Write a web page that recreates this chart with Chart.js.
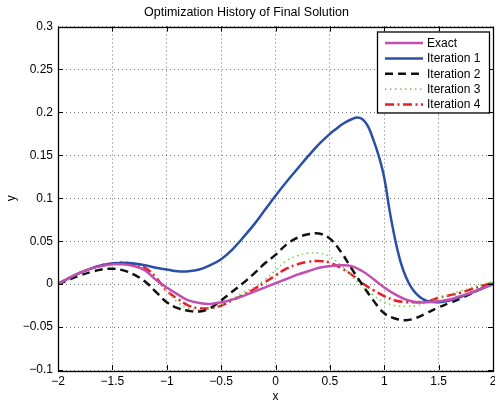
<!DOCTYPE html>
<html lang="en">
<head>
  <meta charset="UTF-8">
  <title>Optimization History of Final Solution</title>
  <script src="https://cdn.jsdelivr.net/npm/chart.js"></script>
  <style>
    body { margin: 0; background: #fff; }
    #wrap { width: 495px; height: 405px; }
  </style>
</head>
<body>
<div id="wrap"><canvas id="historyChart" width="495" height="405"></canvas></div>
<script>
  // sample points shared by most curves
  const xGrid = [-2, -1.9, -1.8, -1.7, -1.6, -1.5, -1.4, -1.3, -1.2, -1.1, -1, -0.9, -0.8, -0.7, -0.6, -0.5, -0.4, -0.3, -0.2, -0.1,
    0, 0.1, 0.2, 0.3, 0.4, 0.5, 0.6, 0.7, 0.8, 0.9, 1, 1.1, 1.2, 1.3, 1.4, 1.5, 1.6, 1.7, 1.8, 1.9, 2];

  const yExact = [0, 0.007, 0.013, 0.018, 0.021, 0.023, 0.023, 0.021, 0.016, 0.005, -0.004, -0.012, -0.019, -0.022, -0.023, -0.021, -0.018, -0.014, -0.009, -0.004,
    0.001, 0.006, 0.011, 0.015, 0.019, 0.021, 0.022, 0.021, 0.015, 0.006, -0.004, -0.012, -0.018, -0.021, -0.021, -0.020, -0.018, -0.014, -0.010, -0.005, 0];

  const yIter2 = [0, 0.005, 0.010, 0.014, 0.017, 0.018, 0.016, 0.011, 0.003, -0.009, -0.021, -0.028, -0.031, -0.032, -0.028, -0.019, -0.009, 0.001, 0.012, 0.024,
    0.034, 0.046, 0.054, 0.058, 0.059, 0.053, 0.038, 0.018, -0.001, -0.019, -0.034, -0.040, -0.042, -0.039, -0.033, -0.027, -0.022, -0.017, -0.011, -0.005, 0.001];

  const yIter3 = [0, 0.007, 0.013, 0.018, 0.021, 0.023, 0.024, 0.022, 0.016, 0.005, -0.008, -0.021, -0.028, -0.030, -0.028, -0.024, -0.017, -0.010, -0.004, 0.005,
    0.016, 0.027, 0.033, 0.036, 0.036, 0.032, 0.022, 0.010, -0.003, -0.013, -0.021, -0.025, -0.026, -0.025, -0.021, -0.017, -0.012, -0.008, -0.004, 0, 0.003];

  const yIter4 = [0, 0.007, 0.013, 0.018, 0.022, 0.024, 0.025, 0.023, 0.019, 0.008, -0.008, -0.017, -0.025, -0.028, -0.028, -0.025, -0.019, -0.013, -0.006, 0.002,
    0.010, 0.018, 0.023, 0.026, 0.027, 0.025, 0.019, 0.011, 0.001, -0.007, -0.014, -0.019, -0.021, -0.021, -0.020, -0.016, -0.013, -0.010, -0.006, -0.002, 0.002];

  // iteration 1 has a sharp peak, so it gets a denser x set
  const xIter1 = [-2, -1.9, -1.8, -1.7, -1.6, -1.5, -1.4, -1.3, -1.2, -1.1, -1, -0.9, -0.8, -0.7, -0.6, -0.5, -0.4, -0.3, -0.2, -0.1,
    0, 0.1, 0.2, 0.3, 0.4, 0.5, 0.55, 0.6, 0.65, 0.7, 0.75, 0.8, 0.85, 0.9, 0.95, 1, 1.05, 1.1, 1.15, 1.2, 1.25, 1.3, 1.35, 1.4,
    1.5, 1.6, 1.7, 1.8, 1.9, 2];
  const yIter1 = [0, 0.007, 0.013, 0.018, 0.022, 0.024, 0.025, 0.024, 0.022, 0.019, 0.017, 0.015, 0.015, 0.017, 0.022, 0.029, 0.040, 0.054, 0.069, 0.086,
    0.103, 0.119, 0.134, 0.149, 0.163, 0.175, 0.180, 0.185, 0.189, 0.192, 0.194, 0.192, 0.184, 0.168, 0.149, 0.124, 0.085, 0.052, 0.026, 0.008, -0.004, -0.012, -0.017, -0.020,
    -0.021, -0.019, -0.015, -0.010, -0.005, 0];

  const seriesNames = ['Exact', 'Iteration 1', 'Iteration 2', 'Iteration 3', 'Iteration 4'];
  const xTicks = [-2, -1.5, -1, -0.5, 0, 0.5, 1, 1.5, 2];
  const yTicks = [-0.1, -0.05, 0, 0.05, 0.1, 0.15, 0.2, 0.25, 0.3];

  const FONT = 'Liberation Sans, Arial, Helvetica, sans-serif';

  function pts(xs, ys) {
    return xs.map((x, i) => ({ x: x, y: ys[i] }));
  }

  function fmt(v) {
    const s = String(Math.round(v * 100) / 100);
    return s.replace('-', '\u2212');
  }

  // axes box with inward tick marks on all four sides
  const boxTicks = {
    id: 'boxTicks',
    afterDatasetsDraw(chart) {
      const { ctx, chartArea: a, scales } = chart;
      ctx.save();
      ctx.strokeStyle = '#000';
      ctx.lineWidth = 1;
      ctx.beginPath();
      xTicks.forEach(v => {
        const px = Math.round(scales.x.getPixelForValue(v)) + 0.5;
        ctx.moveTo(px, a.bottom); ctx.lineTo(px, a.bottom - 5);
        ctx.moveTo(px, a.top); ctx.lineTo(px, a.top + 5);
      });
      yTicks.forEach(v => {
        const py = Math.round(scales.y.getPixelForValue(v)) + 0.5;
        ctx.moveTo(a.left, py); ctx.lineTo(a.left + 5, py);
        ctx.moveTo(a.right, py); ctx.lineTo(a.right - 5, py);
      });
      ctx.stroke();
      ctx.lineWidth = 1.3;
      ctx.strokeRect(Math.round(a.left) + 0.5, Math.round(a.top) + 0.5,
        Math.round(a.right - a.left), Math.round(a.bottom - a.top));
      ctx.restore();
    }
  };

  // boxed legend in the upper right corner
  const boxLegend = {
    id: 'boxLegend',
    afterDraw(chart) {
      const { ctx, chartArea: a } = chart;
      const w = 112, h = 81;
      const left = a.right - 4 - w, top = a.top + 5;
      ctx.save();
      ctx.fillStyle = '#fff';
      ctx.fillRect(left, top, w, h);
      ctx.strokeStyle = '#000';
      ctx.lineWidth = 1.3;
      ctx.strokeRect(left + 0.5, top + 0.5, w, h);
      ctx.font = '12px ' + FONT;
      ctx.textBaseline = 'middle';
      chart.data.datasets.forEach((ds, i) => {
        const y = top + 11.5 + i * 15.4;
        ctx.strokeStyle = ds.borderColor;
        ctx.lineWidth = ds.borderWidth;
        ctx.setLineDash(ds.borderDash || []);
        ctx.beginPath();
        ctx.moveTo(left + 8, y);
        ctx.lineTo(left + 46, y);
        ctx.stroke();
        ctx.setLineDash([]);
        ctx.fillStyle = '#000';
        ctx.fillText(ds.label, left + 50, y + 0.5);
      });
      ctx.restore();
    }
  };

  const lineBase = { pointRadius: 0, fill: false, tension: 0.4 };

  new Chart(document.getElementById('historyChart'), {
    type: 'line',
    data: {
      datasets: [
        Object.assign({ label: seriesNames[0], data: pts(xGrid, yExact), borderColor: '#c24fae', borderWidth: 2.5 }, lineBase),
        Object.assign({ label: seriesNames[1], data: pts(xIter1, yIter1), borderColor: '#2b4fa6', borderWidth: 2.5 }, lineBase),
        Object.assign({ label: seriesNames[2], data: pts(xGrid, yIter2), borderColor: '#111', borderWidth: 2.5, borderDash: [8, 5] }, lineBase),
        Object.assign({ label: seriesNames[3], data: pts(xGrid, yIter3), borderColor: '#7fd35c', borderWidth: 1.7, borderDash: [1.5, 3.5] }, lineBase),
        Object.assign({ label: seriesNames[4], data: pts(xGrid, yIter4), borderColor: '#e81e26', borderWidth: 2.5, borderDash: [9, 3.5, 2, 3.5] }, lineBase)
      ]
    },
    options: {
      responsive: false,
      animation: false,
      layout: { padding: { left: 0, right: 2, top: 0, bottom: 0 } },
      plugins: {
        legend: { display: false },
        tooltip: { enabled: false },
        title: {
          display: true,
          text: 'Optimization History of Final Solution',
          color: '#000',
          font: { family: FONT, size: 12.5, weight: 'normal' },
          padding: { top: 5, bottom: 6.5 }
        }
      },
      scales: {
        x: {
          type: 'linear',
          min: -2, max: 2,
          afterBuildTicks: s => { s.ticks = xTicks.map(v => ({ value: v })); },
          afterFit: s => { s.height = 35; s.paddingLeft = 0; s.paddingRight = 0; },
          grid: { color: 'rgba(0,0,0,0.55)', lineWidth: 1, drawTicks: false },
          border: { display: false, dash: [1, 3] },
          ticks: { color: '#000', padding: 4, maxRotation: 0, font: { family: FONT, size: 12 }, callback: v => fmt(v) },
          title: { display: true, text: 'x', color: '#000', font: { family: FONT, size: 12 }, padding: { top: 0, bottom: 1 } }
        },
        y: {
          type: 'linear',
          min: -0.1, max: 0.3,
          afterBuildTicks: s => { s.ticks = yTicks.map(v => ({ value: v })); },
          afterFit: s => { s.width = 58; s.paddingTop = 0; s.paddingBottom = 0; },
          grid: { color: 'rgba(0,0,0,0.55)', lineWidth: 1, drawTicks: false },
          border: { display: false, dash: [1, 3] },
          ticks: { color: '#000', padding: 5, font: { family: FONT, size: 12 }, callback: v => fmt(v) },
          title: { display: true, text: 'y', color: '#000', font: { family: FONT, size: 12 }, padding: { top: 4, bottom: 0 } }
        }
      }
    },
    plugins: [boxTicks, boxLegend]
  });
</script>
</body>
</html>
